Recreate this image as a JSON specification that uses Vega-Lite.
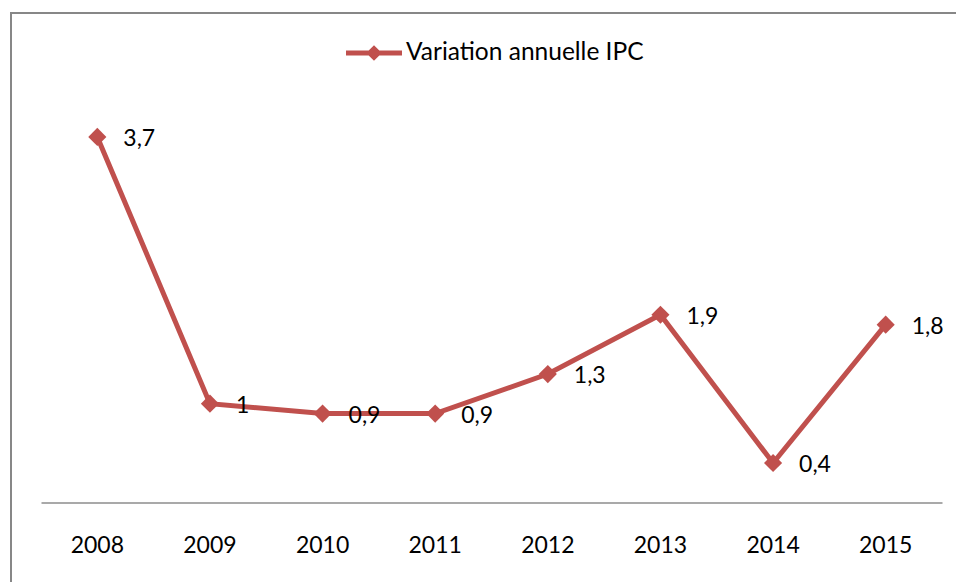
{
  "$schema": "https://vega.github.io/schema/vega-lite/v6.json",
  "autosize": {"type": "none"},
  "padding": {"left": 11, "top": 13, "right": 0, "bottom": 0},
  "width": 950,
  "height": 575,
  "background": "white",
  "config": {
    "view": {"stroke": "#878787", "strokeWidth": 2},
    "font": "Lato",
    "locale": {"number": {"decimal": ",", "thousands": " ", "grouping": [3], "currency": ["", " €"]}}
  },
  "data": {
    "values": [
      {"year": "2008", "value": 3.7},
      {"year": "2009", "value": 1.0},
      {"year": "2010", "value": 0.9},
      {"year": "2011", "value": 0.9},
      {"year": "2012", "value": 1.3},
      {"year": "2013", "value": 1.9},
      {"year": "2014", "value": 0.4},
      {"year": "2015", "value": 1.8}
    ]
  },
  "encoding": {
    "x": {
      "field": "year",
      "type": "ordinal",
      "scale": {"type": "band", "range": [30, 931], "paddingInner": 0, "paddingOuter": 0},
      "axis": {
        "title": null,
        "offset": -85.5,
        "ticks": false,
        "tickSize": 0,
        "domainColor": "#8c8c8c",
        "domainWidth": 1.5,
        "labelFont": "Lato",
        "labelFontSize": 23,
        "labelFontWeight": "normal",
        "labelColor": "#000000",
        "labelBaseline": "middle",
        "labelPadding": 43,
        "labelAngle": 0,
        "grid": false
      }
    },
    "y": {
      "field": "value",
      "type": "quantitative",
      "scale": {"domain": [0, 4], "range": [489.5, 94.3], "zero": true, "nice": false},
      "axis": null
    }
  },
  "layer": [
    {
      "mark": {"type": "line", "strokeWidth": 5, "color": "#C0504D"},
      "encoding": {
        "color": {
          "datum": "Variation annuelle IPC",
          "scale": {"range": ["#C0504D"]},
          "legend": {
            "title": null,
            "orient": "none",
            "legendX": 335,
            "legendY": 12,
            "padding": 0,
            "symbolType": "M-1,-0.09L-0.19,-0.09L0,-0.28L0.19,-0.09L1,-0.09L1,0.09L0.19,0.09L0,0.28L-0.19,0.09L-1,0.09Z",
            "symbolSize": 3136,
            "symbolFillColor": "#C0504D",
            "symbolStrokeColor": "#C0504D",
            "symbolStrokeWidth": 0,
            "labelFont": "Lato",
            "labelFontSize": 24.5,
            "labelColor": "#000000",
            "labelOffset": 4,
            "labelLimit": 400
          }
        }
      }
    },
    {
      "mark": {"type": "point", "shape": "diamond", "filled": true, "size": 330, "color": "#C0504D", "opacity": 1}
    },
    {
      "mark": {"type": "text", "align": "left", "baseline": "middle", "dx": 26, "dy": 2, "font": "Lato", "fontSize": 23, "color": "#000000"},
      "encoding": {
        "text": {"field": "value", "type": "quantitative", "format": ".1~f"}
      }
    }
  ]
}
